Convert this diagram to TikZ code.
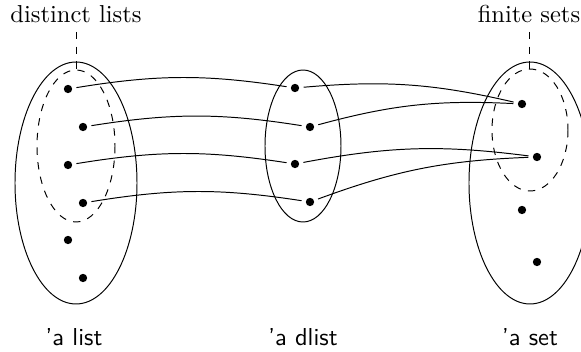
\documentclass[tikz,border=0pt]{standalone}
\begin{document}
\begin{tikzpicture}[x=0.408pt,y=-0.408pt,
  dot/.style={circle,fill,inner sep=0pt,minimum size=3.4pt,outer sep=1.8pt},
  conn/.style={bend left=9},
  toplabel/.style={anchor=base,inner sep=0pt},
  typelabel/.style={anchor=base,inner sep=0pt,font=\sffamily}]
\useasboundingbox (0,0) rectangle (581,352);
% sets
\draw (76,183) ellipse [x radius=61, y radius=121];
\draw[dashed] (76,146) ellipse [x radius=39, y radius=76];
\draw (303,146) ellipse [x radius=38, y radius=76];
\draw (530,183) ellipse [x radius=61, y radius=121];
\draw[dashed] (530,130) ellipse [x radius=38, y radius=61];
% labels
\node[toplabel] (dl) at (76,23) {distinct lists};
\node[toplabel] (fs) at (529,23) {finite sets};
\coordinate (dlt) at (76,70);
\coordinate (fst) at (529,70);
\draw[dashed] (76,32) -- (dlt);
\draw[dashed] (529,32) -- (fst);
\node[typelabel] (tl) at (74,346) {'a list};
\node[typelabel] (td) at (303,346) {'a dlist};
\node[typelabel] (ts) at (530,346) {'a set};
% dots
\node[dot] (l1) at (68,89) {};
\node[dot] (l2) at (83,127) {};
\node[dot] (l3) at (68,165) {};
\node[dot] (l4) at (83,203) {};
\node[dot] (l5) at (68,240) {};
\node[dot] (l6) at (83,278) {};
\node[dot] (m1) at (295,88) {};
\node[dot] (m2) at (310,127) {};
\node[dot] (m3) at (295,164) {};
\node[dot] (m4) at (310,202) {};
\node[dot] (r1) at (522,104) {};
\node[dot] (r2) at (537,157) {};
\node[dot] (r3) at (522,210) {};
\node[dot] (r4) at (537,262) {};
% connectors
\draw (l1) to[conn] (m1);
\draw (l2) to[conn] (m2);
\draw (l3) to[conn] (m3);
\draw (l4) to[conn] (m4);
\draw (m1) to[conn] (r1);
\draw (m2) to[conn] (r1);
\draw (m3) to[conn] (r2);
\draw (m4) to[conn] (r2);
\end{tikzpicture}
\end{document}
